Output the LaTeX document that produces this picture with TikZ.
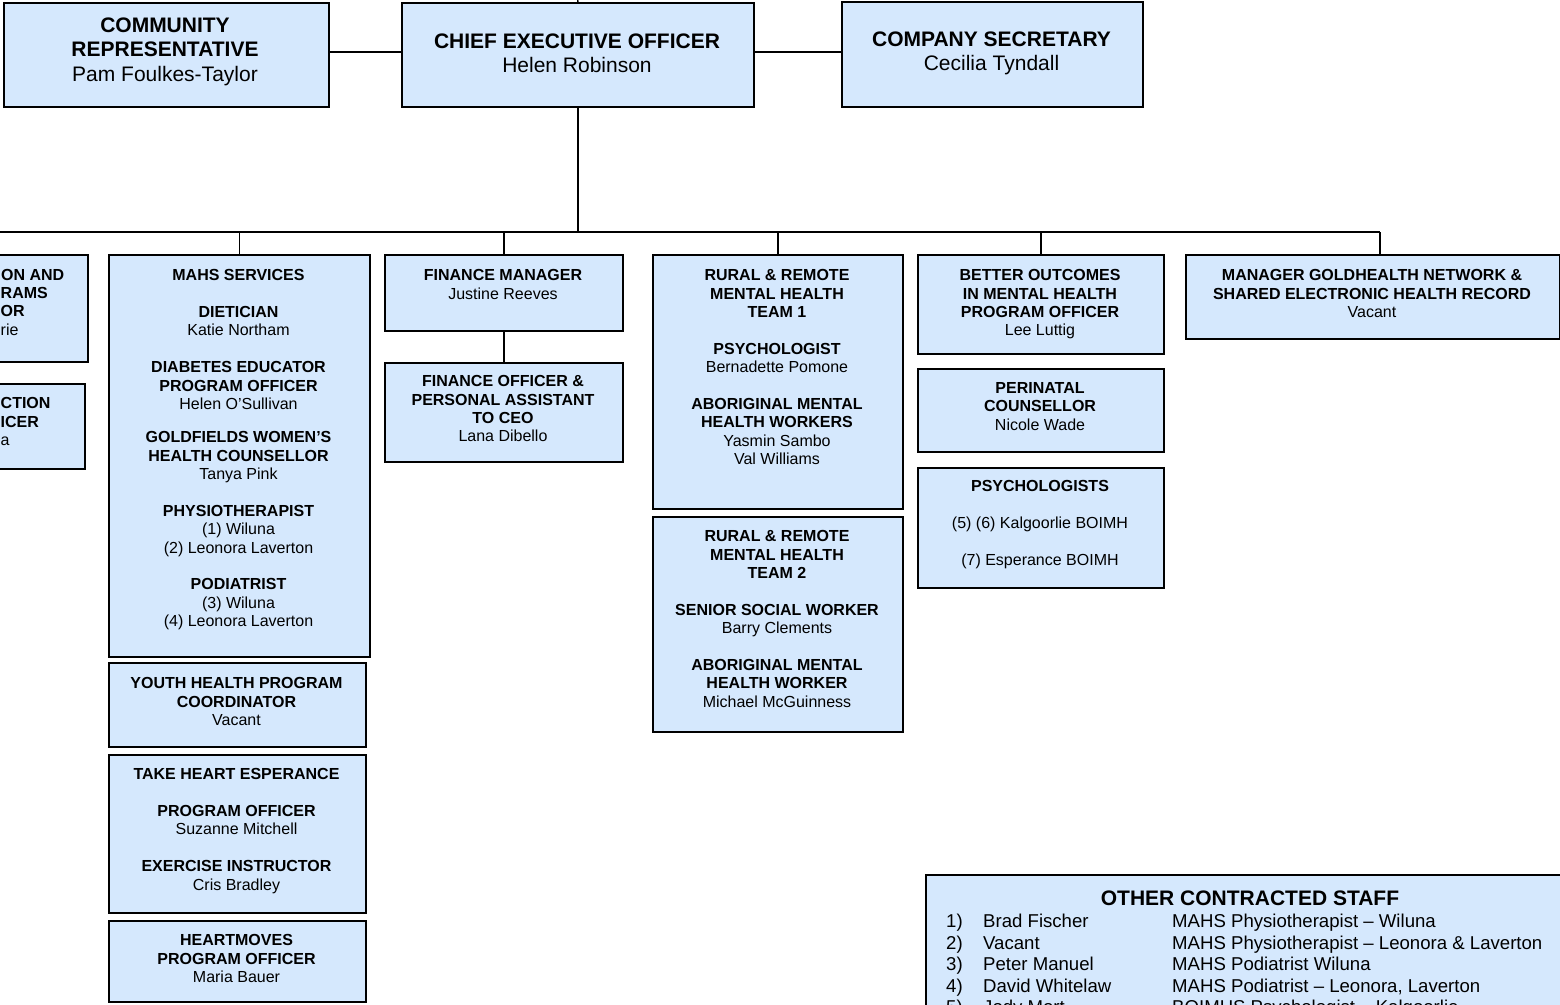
\documentclass[tikz,border=0pt]{standalone}
\usepackage{fontspec}
\setmainfont{Liberation Sans}
\usetikzlibrary{positioning}
\definecolor{unitblue}{RGB}{213,232,253}
\tikzset{
  unit/.style={draw=black, line width=1.8pt, fill=unitblue, inner sep=0pt, anchor=north west},
  txt/.style={align=center, inner sep=0pt, anchor=north, font=\fontsize{16}{18.4}\selectfont},
  bigtxt/.style={txt, font=\fontsize{21}{24.5}\selectfont},
  frag/.style={inner sep=0pt, anchor=base west, font=\fontsize{16}{18.4}\selectfont},
  link/.style={line width=1.4pt},
  bus/.style={line width=2.2pt}
}
\begin{document}
\begin{tikzpicture}[x=1pt, y=-1pt]
    \useasboundingbox (0,0) rectangle (1560,1004);

    % top row
    \node[unit, minimum width=325pt, minimum height=104pt] (comm) at (3,2) {};
    \node[unit, minimum width=352pt, minimum height=104pt] (ceo) at (401,2) {};
    \node[unit, minimum width=301pt, minimum height=105pt] (cosec) at (841,1) {};

    \node[bigtxt] (comm-txt) at (165,17.5) {\textbf{COMMUNITY}\\\textbf{REPRESENTATIVE}\\Pam Foulkes-Taylor};
    \node[bigtxt] (ceo-txt) at (577,33.5) {\textbf{CHIEF EXECUTIVE OFFICER}\\Helen Robinson};
    \node[bigtxt] (cosec-txt) at (991.5,31.5) {\textbf{COMPANY SECRETARY}\\Cecilia Tyndall};

    % boxes cut off at the left edge
    \node[unit, anchor=north east, minimum width=200pt, minimum height=107pt] (leftA) at (89,254) {};
    \node[unit, anchor=north east, minimum width=200pt, minimum height=85pt] (leftB) at (86,383) {};
    \node[frag] (leftA-1) at (1,280.7) {\textbf{ON AND}};
    \node[frag] (leftA-2) at (0.5,298.7) {\textbf{RAMS}};
    \node[frag] (leftA-3) at (0.5,316.7) {\textbf{OR}};
    \node[frag] (leftA-4) at (0.5,335.7) {rie};
    \node[frag] (leftB-1) at (0.5,408.7) {\textbf{CTION}};
    \node[frag] (leftB-2) at (0.5,427.7) {\textbf{ICER}};
    \node[frag] (leftB-3) at (0.5,445.7) {a};

    % MAHS column
    \node[unit, minimum width=261pt, minimum height=402pt] (mahs) at (108,254) {};
    \node[unit, minimum width=257pt, minimum height=84pt] (youth) at (108,662) {};
    \node[unit, minimum width=257pt, minimum height=158pt] (heart) at (108,754) {};
    \node[unit, minimum width=257pt, minimum height=81pt] (hmoves) at (108,920) {};

    \node[txt] (mahs-txt) at (238.5,269.3) {\textbf{MAHS SERVICES}\\[18.4pt]
        \textbf{DIETICIAN}\\Katie Northam\\[18.4pt]
        \textbf{DIABETES EDUCATOR}\\\textbf{PROGRAM OFFICER}\\Helen O’Sullivan\\[14.8pt]
        \textbf{GOLDFIELDS WOMEN’S}\\\textbf{HEALTH COUNSELLOR}\\Tanya Pink\\[18.4pt]
        \textbf{PHYSIOTHERAPIST}\\(1) Wiluna\\(2) Leonora Laverton\\[18.4pt]
        \textbf{PODIATRIST}\\(3) Wiluna\\(4) Leonora Laverton};
    \node[txt] (youth-txt) at (236.5,677.3) {\textbf{YOUTH HEALTH PROGRAM}\\\textbf{COORDINATOR}\\Vacant};
    \node[txt] (heart-txt) at (236.5,768.3) {\textbf{TAKE HEART ESPERANCE}\\[18.4pt]
        \textbf{PROGRAM OFFICER}\\Suzanne Mitchell\\[18.4pt]
        \textbf{EXERCISE INSTRUCTOR}\\Cris Bradley};
    \node[txt] (hmoves-txt) at (236.5,934.3) {\textbf{HEARTMOVES}\\\textbf{PROGRAM OFFICER}\\Maria Bauer};

    % finance
    \node[unit, minimum width=238pt, minimum height=76pt] (finmgr) at (384,254) {};
    \node[unit, minimum width=238pt, minimum height=99pt] (finoff) at (384,362) {};
    \node[txt] (finmgr-txt) at (503,269.3) {\textbf{FINANCE MANAGER}\\Justine Reeves};
    \node[txt] (finoff-txt) at (503,375.3) {\textbf{FINANCE OFFICER \&}\\\textbf{PERSONAL ASSISTANT}\\\textbf{TO CEO}\\Lana Dibello};

    % rural and remote mental health
    \node[unit, minimum width=250pt, minimum height=254pt] (rural1) at (652,254) {};
    \node[unit, minimum width=250pt, minimum height=215pt] (rural2) at (652,516) {};
    \node[txt] (rural1-txt) at (777,269.3) {\textbf{RURAL \& REMOTE}\\\textbf{MENTAL HEALTH}\\\textbf{TEAM 1}\\[18.4pt]
        \textbf{PSYCHOLOGIST}\\Bernadette Pomone\\[18.4pt]
        \textbf{ABORIGINAL MENTAL}\\\textbf{HEALTH WORKERS}\\Yasmin Sambo\\Val Williams};
    \node[txt] (rural2-txt) at (777,530.3) {\textbf{RURAL \& REMOTE}\\\textbf{MENTAL HEALTH}\\\textbf{TEAM 2}\\[18.4pt]
        \textbf{SENIOR SOCIAL WORKER}\\Barry Clements\\[18.4pt]
        \textbf{ABORIGINAL MENTAL}\\\textbf{HEALTH WORKER}\\Michael McGuinness};

    % better outcomes
    \node[unit, minimum width=246pt, minimum height=99pt] (boimh) at (917,254) {};
    \node[unit, minimum width=246pt, minimum height=83pt] (perinatal) at (917,368) {};
    \node[unit, minimum width=246pt, minimum height=120pt] (psych) at (917,467) {};
    \node[txt] (boimh-txt) at (1040,269.3) {\textbf{BETTER OUTCOMES}\\\textbf{IN MENTAL HEALTH}\\\textbf{PROGRAM OFFICER}\\Lee Luttig};
    \node[txt] (perinatal-txt) at (1040,382.3) {\textbf{PERINATAL}\\\textbf{COUNSELLOR}\\Nicole Wade};
    \node[txt] (psych-txt) at (1040,480.3) {\textbf{PSYCHOLOGISTS}\\[18.4pt]
        (5) (6) Kalgoorlie BOIMH\\[18.4pt](7) Esperance BOIMH};

    % goldhealth network
    \node[unit, minimum width=374pt, minimum height=84pt] (ghn) at (1185,254) {};
    \node[txt] (ghn-txt) at (1372,269.3) {\textbf{MANAGER GOLDHEALTH NETWORK \&}\\\textbf{SHARED ELECTRONIC HEALTH RECORD}\\Vacant};

    % other contracted staff
    \node[unit, minimum width=700pt, minimum height=200pt] (staff) at (925,874) {};
    \node[bigtxt] (staff-txt) at (1250,890.5) {\textbf{OTHER CONTRACTED STAFF}};
    \node[inner sep=0pt, anchor=north west, font=\fontsize{18.6}{21.5}\selectfont] (staff-list) at (946,912.6) {%
        \begin{tabular}{@{}p{37pt}@{}p{189pt}@{}l@{}}
        1) & Brad Fischer & MAHS Physiotherapist – Wiluna\\
        2) & Vacant & MAHS Physiotherapist – Leonora \& Laverton\\
        3) & Peter Manuel & MAHS Podiatrist Wiluna\\
        4) & David Whitelaw & MAHS Podiatrist – Leonora, Laverton\\
        5) & Jody Mort & BOIMHS Psychologist – Kalgoorlie
        \end{tabular}};

    % connectors
    \coordinate (board) at (577,-10);
    \coordinate (busW) at (-10,232);
    \coordinate (ghnTop) at ([xshift=7pt]ghn.north);
    \draw[link] (ceo.north) -- (board);
    \draw[link] ([yshift=3pt]comm.east) -- ([yshift=3pt]comm.east -| ceo.west);
    \draw[link] ([yshift=3pt]ceo.east) -- ([yshift=3pt]ceo.east -| cosec.west);
    \draw[link] (ceo.south) -- (ceo.south |- busW);
    \draw[bus] (busW) -- (busW -| ghnTop);
    \draw[link] (mahs.north) -- (mahs.north |- busW);
    \draw[link] (finmgr.north) -- (finmgr.north |- busW);
    \draw[link] (rural1.north) -- (rural1.north |- busW);
    \draw[link] (boimh.north) -- (boimh.north |- busW);
    \draw[link] (ghnTop) -- (ghnTop |- busW);
    \draw[link] (finmgr.south) -- (finoff.north);
\end{tikzpicture}
\end{document}
